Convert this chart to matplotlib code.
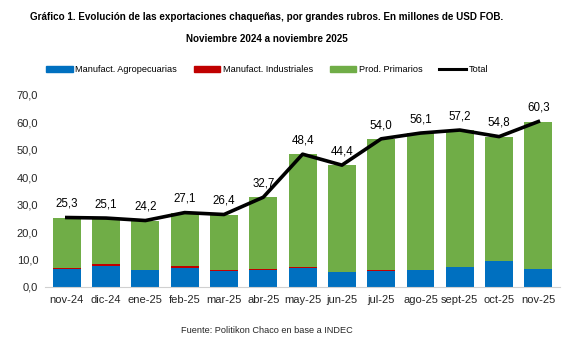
import matplotlib
matplotlib.use("Agg")
import matplotlib.pyplot as plt
from matplotlib.ticker import FuncFormatter
from matplotlib.lines import Line2D
from matplotlib.patches import Patch
import numpy as np

meses = ['nov-24', 'dic-24', 'ene-25', 'feb-25', 'mar-25', 'abr-25', 'may-25',
         'jun-25', 'jul-25', 'ago-25', 'sept-25', 'oct-25', 'nov-25']
total = [25.3, 25.1, 24.2, 27.1, 26.4, 32.7, 48.4, 44.4, 54.0, 56.1, 57.2, 54.8, 60.3]
agro = [6.5, 7.8, 6.0, 7.0, 5.9, 6.2, 7.0, 5.3, 5.9, 6.0, 7.2, 9.3, 6.4]
indus = [0.3, 0.6, 0.2, 0.6, 0.2, 0.2, 0.2, 0.2, 0.2, 0.2, 0.2, 0.2, 0.2]
primarios = [t - a - i for t, a, i in zip(total, agro, indus)]

plt.rcParams['font.family'] = ['Liberation Sans', 'DejaVu Sans']

c_blue = '#0070C0'
c_red = '#C00000'
c_green = '#70AD47'

fig = plt.figure(figsize=(5.72, 3.44), dpi=100)
ax = fig.add_axes([0.079, 0.166, 0.90, 0.558])

x = np.arange(len(meses))
w = 0.71
ax.bar(x, agro, w, color=c_blue)
ax.bar(x, indus, w, bottom=agro, color=c_red)
ax.bar(x, primarios, w, bottom=np.array(agro) + np.array(indus), color=c_green)
ax.plot(x, total, color='black', lw=2.6, zorder=5)

# etiquetas del total
for xi, t in zip(x, total):
    ax.annotate(f'{t:.1f}'.replace('.', ','), (xi, t), xytext=(0, 5.5),
                textcoords='offset points', ha='center', va='bottom',
                fontsize=8.3, color='black')

ax.set_ylim(0, 70)
ax.set_xlim(-0.55, 12.55)
ax.set_yticks(range(0, 71, 10))
ax.yaxis.set_major_formatter(FuncFormatter(lambda v, p: f'{v:.1f}'.replace('.', ',')))
ax.set_xticks(x, meses)
ax.tick_params(axis='both', length=0, labelsize=8, colors='#262626')
ax.tick_params(axis='x', pad=6)
ax.tick_params(axis='y', pad=5)
for s in ['top', 'right', 'left']:
    ax.spines[s].set_visible(False)
ax.spines['bottom'].set_color('#d0d0d0')

fig.text(0.467, 0.951, 'Gráfico 1. Evolución de las exportaciones chaqueñas, por grandes rubros. En millones de USD FOB.',
         ha='center', va='center', fontsize=7.1, fontweight='bold')
fig.text(0.467, 0.887, 'Noviembre 2024 a noviembre 2025',
         ha='center', va='center', fontsize=7.1, fontweight='bold')

handles = [Patch(color=c_blue), Patch(color=c_red), Patch(color=c_green),
           Line2D([], [], color='black', lw=2.2)]
labels = ['Manufact. Agropecuarias', 'Manufact. Industriales', 'Prod. Primarios', 'Total']
fig.legend(handles, labels, loc='center', bbox_to_anchor=(0.467, 0.797), ncol=4,
           frameon=False, prop={'size': 6.6},
           handlelength=2.9, handleheight=0.5, handletextpad=0.3, columnspacing=1.8)

fig.text(0.466, 0.038, 'Fuente: Politikon Chaco en base a INDEC', ha='center', va='center',
         fontsize=6.6, color='#262626')

fig.savefig('out.png', dpi=100, facecolor='white')
